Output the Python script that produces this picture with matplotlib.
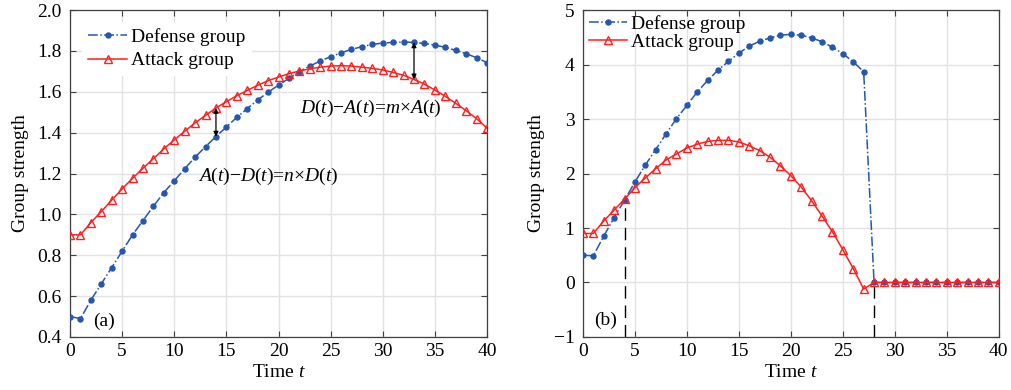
import numpy as np
import matplotlib
matplotlib.use("Agg")
import matplotlib.pyplot as plt

plt.rcParams['font.family'] = 'serif'
plt.rcParams['font.serif'] = ['Liberation Serif', 'Times New Roman', 'DejaVu Serif']
plt.rcParams['mathtext.fontset'] = 'custom'
plt.rcParams['mathtext.it'] = 'Liberation Serif:italic'
plt.rcParams['mathtext.rm'] = 'Liberation Serif'

# DATA
t = np.arange(41)

defense_a = [0.50, 0.49, 0.58, 0.66, 0.74, 0.82, 0.90, 0.97, 1.04, 1.107,
             1.164, 1.224, 1.280, 1.332, 1.381, 1.428, 1.475, 1.518, 1.560, 1.598,
             1.633, 1.666, 1.699, 1.726, 1.751, 1.772, 1.791, 1.808, 1.821, 1.832,
             1.839, 1.842, 1.844, 1.842, 1.837, 1.829, 1.818, 1.803, 1.787, 1.767,
             1.743]
attack_a = [0.90, 0.90, 0.96, 1.014, 1.070, 1.125, 1.177, 1.226, 1.273, 1.321,
            1.365, 1.407, 1.448, 1.485, 1.521, 1.552, 1.581, 1.607, 1.632, 1.655,
            1.672, 1.689, 1.702, 1.713, 1.721, 1.726, 1.728, 1.726, 1.721, 1.715,
            1.707, 1.695, 1.681, 1.661, 1.638, 1.609, 1.578, 1.544, 1.508, 1.469,
            1.423]

defense_b = [0.50, 0.49, 0.85, 1.19, 1.51, 1.845, 2.155, 2.44, 2.73, 3.01,
             3.25, 3.50, 3.71, 3.90, 4.06, 4.21, 4.34, 4.43, 4.49, 4.54,
             4.555, 4.54, 4.49, 4.42, 4.32, 4.20, 4.05, 3.87, 0.0, 0.0,
             0.0, 0.0, 0.0, 0.0, 0.0, 0.0, 0.0, 0.0, 0.0, 0.0,
             0.0]
attack_b = [0.90, 0.90, 1.13, 1.33, 1.53, 1.74, 1.92, 2.09, 2.25, 2.36,
            2.47, 2.54, 2.59, 2.61, 2.61, 2.58, 2.51, 2.42, 2.30, 2.14,
            1.96, 1.75, 1.50, 1.22, 0.93, 0.60, 0.255, -0.12, 0.0, 0.0,
            0.0, 0.0, 0.0, 0.0, 0.0, 0.0, 0.0, 0.0, 0.0, 0.0,
            0.0]

BLUE = '#2457b0'
RED = '#ff1f1f'
FS = 14

fig = plt.figure(figsize=(10.12, 3.9), dpi=100)
ax1 = fig.add_axes([0.0692, 0.136, 0.412, 0.838])
ax2 = fig.add_axes([0.576, 0.136, 0.411, 0.838])


def style(ax):
    ax.grid(True, color='#e2e2e2', linewidth=1.0)
    ax.set_axisbelow(True)
    ax.tick_params(direction='in', top=True, right=True, labelsize=FS,
                   length=4, color='#404040')
    ax.tick_params(axis='x', pad=4)
    ax.tick_params(axis='y', pad=6)
    for s in ax.spines.values():
        s.set_edgecolor('#404040')
        s.set_linewidth(0.9)
    ax.set_xlabel('Time $t$', fontsize=FS, labelpad=3)
    ax.set_ylabel('Group strength', fontsize=FS, labelpad=6)
    ax.set_xlim(0, 40)
    ax.set_xticks(np.arange(0, 41, 5))


def draw(ax, d, a):
    ax.plot(t, d, '-.', color=BLUE, marker='o', markersize=3.6, linewidth=1.1,
            label='Defense group', zorder=3)
    ax.plot(t, a, '-', color=RED, marker='^', markersize=5.5, mfc='none',
            mec=RED, linewidth=1.1, label='Attack group', zorder=3)


# (a)
draw(ax1, defense_a, attack_a)
style(ax1)
ax1.set_ylim(0.4, 2.0)
ax1.set_yticks(np.arange(0.4, 2.01, 0.2))
ax1.set_yticklabels([f'{v:.1f}' for v in np.arange(0.4, 2.01, 0.2)])
ax1.annotate('', xy=(14, attack_a[14]), xytext=(14, defense_a[14]),
             arrowprops=dict(arrowstyle='<|-|>', color='black', lw=0.9,
                             mutation_scale=7, shrinkA=0, shrinkB=0))
ax1.annotate('', xy=(33, defense_a[33]), xytext=(33, attack_a[33]),
             arrowprops=dict(arrowstyle='<|-|>', color='black', lw=0.9,
                             mutation_scale=7, shrinkA=0, shrinkB=0))
ax1.text(28.9, 1.52, '$D(t)$\u2212$A(t)$=$m$\u00d7$A(t)$', fontsize=FS,
         ha='center', va='center')
ax1.text(19.0, 1.185, '$A(t)$\u2212$D(t)$=$n$\u00d7$D(t)$', fontsize=FS,
         ha='center', va='center')
ax1.text(2.2, 0.476, '(a)', fontsize=FS, va='center')
leg1 = ax1.legend(loc='upper left', bbox_to_anchor=(0.02, 0.975), fontsize=FS,
                  handlelength=2.0, handletextpad=0.2, borderaxespad=0.2,
                  borderpad=0.3, labelspacing=0.3, frameon=True, fancybox=False,
                  edgecolor='white', framealpha=1)

# (b)
ax2.plot([4, 4], [-1, attack_b[4]], color='black', linestyle=(0, (9, 5)),
         linewidth=1.0, zorder=2)
ax2.plot([28, 28], [-1, 0], color='black', linestyle=(0, (9, 5)),
         linewidth=1.0, zorder=2)
draw(ax2, defense_b, attack_b)
style(ax2)
ax2.set_ylim(-1, 5)
ax2.set_yticks(np.arange(-1, 6, 1))
ax2.set_yticklabels(['\u22121', '0', '1', '2', '3', '4', '5'])
ax2.text(1.1, -0.7, '(b)', fontsize=FS, va='center')
leg2 = ax2.legend(loc='upper left', bbox_to_anchor=(-0.005, 1.01), fontsize=FS,
                  handlelength=2.0, handletextpad=0.2, borderaxespad=0.1,
                  borderpad=0.3, labelspacing=0.05, frameon=False)

fig.savefig('out.png', dpi=100)
